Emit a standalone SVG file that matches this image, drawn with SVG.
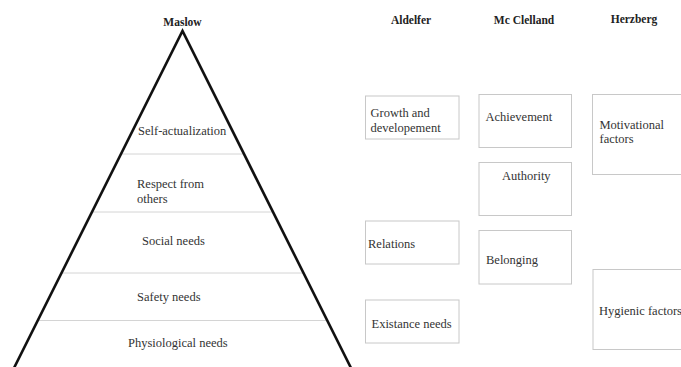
<svg xmlns="http://www.w3.org/2000/svg" width="681" height="367" viewBox="0 0 681 367">
<style>
.hdr{font-family:"Liberation Serif","Times New Roman",serif;font-weight:bold;font-size:11.5px;fill:#222;text-anchor:middle}
.t{font-family:"Liberation Serif","Times New Roman",serif;font-size:12.5px;fill:#333}
.box{fill:#fff;stroke:#c8c8c8;stroke-width:1}
.sep{stroke:#d4d4d4;stroke-width:1}
.pyr{fill:none;stroke:#111;stroke-width:2.6;stroke-linejoin:miter}
</style>
<rect width="681" height="367" fill="#fff"/>
<g id="headers">
<text class="hdr" x="182.5" y="25.5">Maslow</text>
<text class="hdr" x="411" y="23.5">Aldelfer</text>
<text class="hdr" x="524" y="23.5">Mc Clelland</text>
<text class="hdr" x="634" y="22.5">Herzberg</text>
</g>
<g id="pyramid">
<g id="separators">
<line class="sep" x1="120" y1="154" x2="245" y2="154"/>
<line class="sep" x1="91" y1="212" x2="274" y2="212"/>
<line class="sep" x1="61" y1="273" x2="304" y2="273"/>
<line class="sep" x1="37" y1="320.5" x2="328" y2="320.5"/>
</g>
<polyline class="pyr" points="14,368 182.5,31 351,368"/>
<g id="level-self"><text class="t" x="138" y="134.5">Self-actualization</text></g>
<g id="level-respect"><text class="t" x="137" y="188">Respect from</text><text class="t" x="137" y="203">others</text></g>
<g id="level-social"><text class="t" x="142" y="245">Social needs</text></g>
<g id="level-safety"><text class="t" x="137" y="301">Safety needs</text></g>
<g id="level-physio"><text class="t" x="128" y="347">Physiological needs</text></g>
</g>
<g id="growth"><rect class="box" x="365.5" y="96" width="93.5" height="43"/><text class="t" x="370.5" y="116.5">Growth and</text><text class="t" x="370.5" y="131.5">developement</text></g>
<g id="relations"><rect class="box" x="365.5" y="221" width="93.5" height="43"/><text class="t" x="368" y="248">Relations</text></g>
<g id="existance"><rect class="box" x="365.5" y="300" width="93.5" height="43"/><text class="t" x="371.5" y="327.5">Existance needs</text></g>
<g id="achievement"><rect class="box" x="479" y="94.5" width="92.5" height="53"/><text class="t" x="485.5" y="120.5">Achievement</text></g>
<g id="authority"><rect class="box" x="479" y="162.5" width="92.5" height="53"/><text class="t" x="502" y="179.5">Authority</text></g>
<g id="belonging"><rect class="box" x="479" y="230.5" width="92.5" height="53.5"/><text class="t" x="486" y="263.5">Belonging</text></g>
<g id="motivational"><rect class="box" x="592.5" y="94.5" width="100" height="80"/><text class="t" x="599.5" y="128.5">Motivational</text><text class="t" x="599.5" y="142.5">factors</text></g>
<g id="hygienic"><rect class="box" x="593" y="269.5" width="100" height="80"/><text class="t" x="599" y="315">Hygienic factors</text></g>
<g id="connectors"/>
</svg>
